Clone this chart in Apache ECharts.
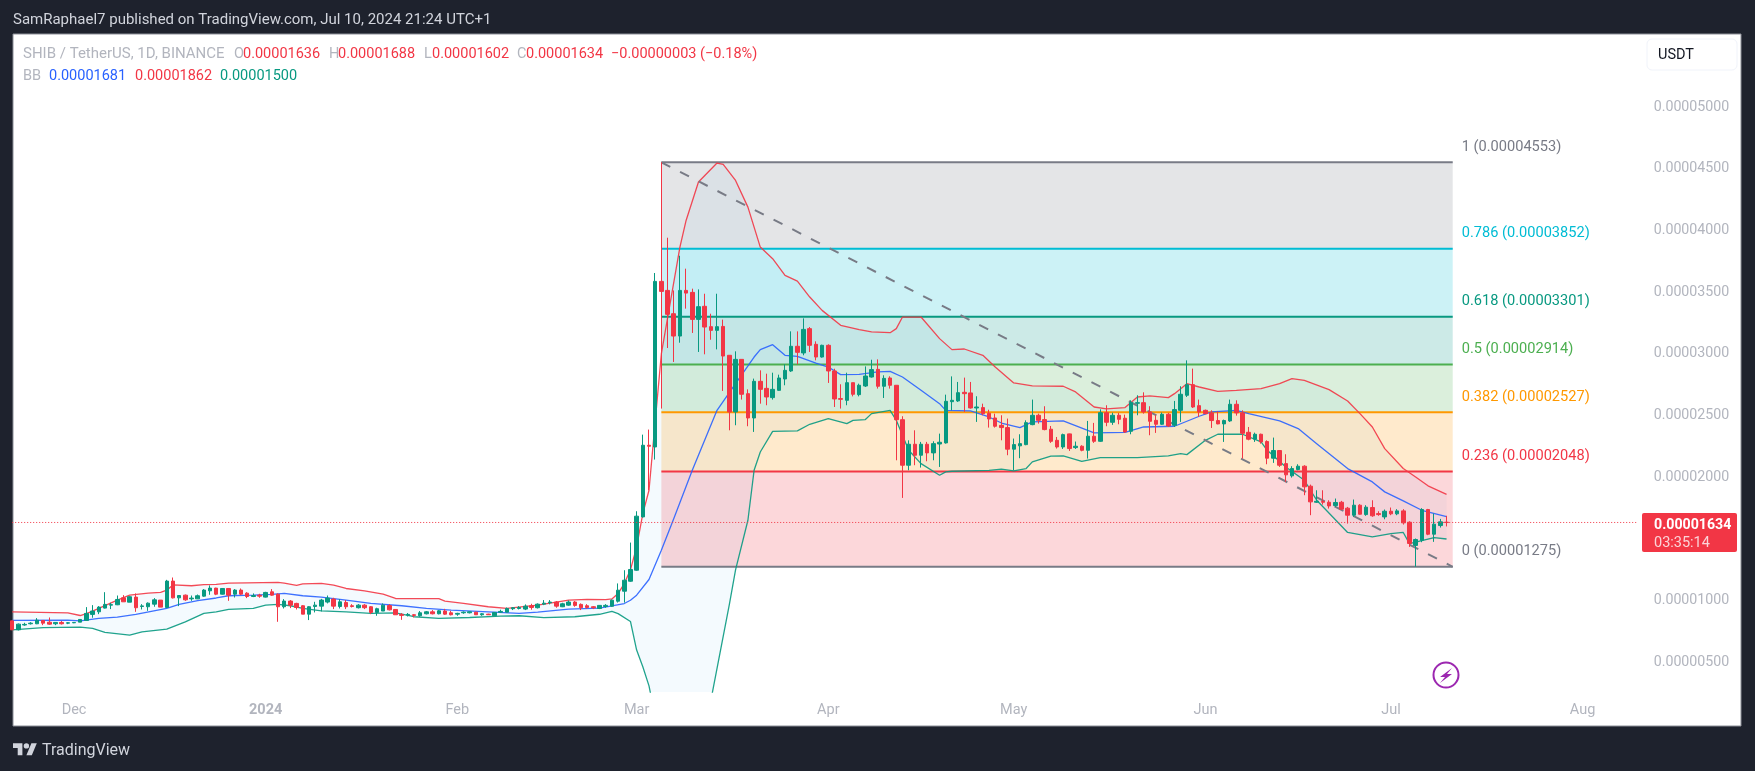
<!DOCTYPE html>
<html>
<head>
<meta charset="utf-8">
<title>SHIB / TetherUS</title>
<style>
html, body { margin: 0; padding: 0; background: #1e222d; }
#chart-container { width: 1755px; height: 771px; }
</style>
<script src="https://cdn.jsdelivr.net/npm/echarts@6/dist/echarts.min.js"></script>
</head>
<body>
<div id="chart-container"></div>
<script>
// all prices are in units of 0.00000001
var candlesOHLC = [
[837,837,764,764],[764,815,759,810],[803,821,797,808],[813,826,807,818],[813,859,810,842],[840,842,802,818],[826,864,805,810],[813,826,802,824],[824,835,807,813],[818,826,810,821],
[821,826,818,824],[826,848,826,848],[840,948,837,897],[889,964,862,916],[910,956,891,948],[940,1069,937,970],[964,983,932,968],[967,1042,964,1010],[1023,1045,991,991],[988,1037,988,1032],
[1029,1059,910,943],[953,972,929,958],[951,986,918,980],[972,1021,951,1007],[1005,1005,948,948],[945,1169,940,1159],[1159,1188,1018,1023],[1023,1045,956,1042],[1045,1050,999,1007],[1015,1042,999,1021],
[1015,1050,1013,1040],[1037,1094,1032,1086],[1080,1124,1048,1102],[1102,1105,1045,1053],[1053,1102,1050,1099],[1099,1102,999,1045],[1053,1094,1026,1086],[1086,1099,1045,1053],[1061,1069,1021,1034],[1034,1059,1029,1042],
[1045,1056,1024,1037],[1029,1072,1026,1067],[1072,1094,1040,1045],[1053,1059,829,951],[951,1013,937,997],[997,1005,940,964],[978,983,929,945],[959,964,891,891],[891,956,843,951],[953,991,905,964],
[956,1015,913,1005],[989,1042,978,1021],[1013,1024,932,956],[953,1013,937,991],[986,1005,932,951],[959,972,945,953],[943,972,937,964],[964,972,932,943],[951,956,891,905],[905,943,878,935],
[916,978,916,964],[961,972,921,926],[929,932,886,886],[889,900,845,881],[883,900,872,889],[886,891,864,881],[878,916,870,902],[894,916,889,910],[910,924,889,894],[894,924,889,918],
[916,934,886,891],[902,918,881,886],[891,902,878,897],[902,913,894,907],[902,913,897,910],[907,910,884,886],[886,899,878,894],[891,894,884,886],[878,907,878,905],[907,927,902,913],
[907,945,905,937],[935,948,924,943],[937,956,929,945],[932,970,924,956],[959,975,927,945],[943,978,937,972],[972,1005,964,980],[983,1005,970,989],[989,997,943,956],[951,983,948,975],
[964,1002,959,989],[989,997,951,962],[970,978,924,943],[959,972,935,945],[951,956,932,943],[937,964,932,962],[953,972,943,962],[955,1010,950,1004],[996,1140,985,1085],[1077,1247,985,1166],
[1158,1471,1153,1253],[1247,1725,1242,1685],[1679,2346,1674,2260],[2260,2387,1895,2252],[2246,3656,2144,3588],[3588,4553,2557,3507],[3515,3942,3048,3321],[3326,3515,2935,3145],[3145,3796,3091,3515],[3515,3691,3367,3493],
[3499,3529,3170,3280],[3280,3523,3016,3383],[3386,3488,2997,3218],[3221,3326,3115,3191],[3191,3488,3037,3221],[3223,3278,2700,2983],[2989,2989,2381,2530],[2530,3021,2422,2956],[2956,2956,2630,2673],[2678,2713,2414,2481],
[2481,2800,2368,2778],[2778,2867,2597,2713],[2721,2840,2584,2651],[2646,2848,2630,2713],[2705,2832,2700,2805],[2797,2916,2746,2867],[2862,3183,2854,3062],[3062,3183,2916,3013],[3008,3288,2989,3199],[3205,3218,3016,3070],
[3078,3102,2948,2975],[2975,3075,2970,3070],[3070,3078,2765,2862],[2862,2880,2570,2635],[2638,2754,2557,2632],[2624,2848,2584,2767],[2767,2767,2656,2673],[2670,2759,2656,2746],[2740,2899,2732,2821],[2813,2953,2808,2873],
[2875,2956,2719,2738],[2738,2827,2643,2802],[2805,2819,2719,2746],[2746,2746,2138,2467],[2467,2495,1833,2098],[2098,2300,2057,2268],[2268,2381,2098,2179],[2179,2287,2079,2268],[2268,2287,2130,2198],[2198,2292,2138,2273],
[2270,2354,2084,2284],[2279,2670,2273,2616],[2613,2818,2543,2624],[2619,2773,2611,2686],[2689,2808,2530,2678],[2684,2773,2557,2562],[2562,2657,2449,2570],[2565,2597,2503,2516],[2519,2548,2403,2473],[2481,2516,2403,2414],
[2421,2503,2300,2403],[2403,2476,2179,2228],[2228,2314,2057,2265],[2255,2349,2155,2273],[2265,2462,2260,2443],[2427,2630,2422,2503],[2503,2516,2435,2462],[2468,2576,2381,2387],[2390,2416,2279,2292],[2300,2327,2233,2246],
[2246,2354,2230,2346],[2352,2354,2214,2233],[2241,2290,2230,2252],[2252,2260,2211,2219],[2219,2457,2152,2333],[2333,2441,2279,2292],[2292,2551,2287,2524],[2524,2584,2414,2446],[2446,2524,2425,2503],[2503,2522,2430,2470],
[2479,2508,2360,2368],[2373,2624,2349,2605],[2600,2665,2503,2605],[2605,2689,2516,2530],[2530,2576,2341,2454],[2462,2503,2360,2430],[2430,2525,2425,2511],[2511,2522,2408,2416],[2422,2619,2408,2549],[2543,2738,2449,2673],
[2665,2948,2651,2751],[2751,2881,2562,2570],[2581,2630,2490,2530],[2543,2549,2511,2516],[2522,2543,2400,2460],[2460,2535,2430,2433],[2433,2468,2287,2460],[2457,2630,2449,2592],[2592,2624,2500,2522],[2522,2543,2152,2357],
[2365,2408,2300,2309],[2309,2362,2287,2349],[2349,2354,2273,2287],[2290,2300,2106,2155],[2155,2322,2117,2217],[2217,2219,2084,2098],[2111,2187,1963,2020],[2012,2090,1998,2071],[2063,2106,2057,2090],[2090,2098,1855,1923],
[1928,1941,1693,1801],[1798,1895,1793,1806],[1804,1895,1779,1798],[1798,1814,1747,1768],[1771,1828,1760,1796],[1798,1809,1739,1742],[1750,1760,1625,1693],[1693,1820,1680,1774],[1774,1782,1698,1701],[1698,1774,1688,1758],
[1755,1814,1680,1688],[1706,1725,1688,1698],[1679,1739,1660,1725],[1725,1755,1693,1704],[1704,1742,1693,1728],[1728,1742,1617,1631],[1636,1644,1436,1464],[1448,1504,1275,1496],[1490,1750,1474,1739],[1739,1744,1531,1539],
[1539,1706,1477,1620],[1609,1663,1593,1639],[1636,1688,1602,1634]
];

// bollinger bands, [candle index, price]
var bbUpper = [[0,910],[9,902],[11,880],[12,895],[13,915],[15,960],[17,1005],[19,1045],[22,1062],[24,1068],[25,1085],[26,1128],[29,1121],[31,1131],[33,1132],[35,1142],[38,1145],[43,1148],[44,1143],[46,1124],[47,1137],[50,1140],[52,1126],[54,1099],[57,1080],[60,1053],[62,1018],[66,1016],[69,1016],[70,997],[73,978],[77,951],[80,937],[85,964],[90,1005],[93,1010],[96,1008],[97,1014],[98,1058],[99,1139],[100,1250],[101,1436],[102,1706],[103,1895],[104,2450],[105,3002],[108,3866],[109,4082],[111,4393],[114,4547],[115,4536],[117,4406],[119,4190],[121,3866],[123,3772],[125,3637],[127,3590],[129,3461],[131,3353],[134,3232],[137,3197],[139,3178],[142,3172],[143,3205],[144,3299],[147,3299],[150,3124],[152,3035],[154,3040],[157,2989],[159,2894],[162,2765],[165,2741],[170,2738],[172,2692],[175,2570],[177,2554],[180,2565],[182,2651],[184,2660],[187,2646],[188,2678],[190,2759],[192,2732],[195,2697],[198,2705],[202,2719],[205,2759],[207,2800],[209,2786],[213,2711],[216,2619],[218,2516],[220,2408],[222,2233],[225,2071],[227,2003],[229,1931],[232,1862]];
var bbBasis = [[0,840],[9,843],[11,837],[14,856],[17,867],[20,889],[25,937],[27,970],[30,1000],[33,1022],[35,1040],[39,1045],[42,1051],[44,1059],[47,1040],[50,1029],[54,1005],[58,978],[63,959],[67,937],[71,924],[77,910],[82,897],[85,907],[90,932],[95,940],[99,977],[100,1004],[101,1045],[103,1172],[105,1409],[107,1665],[110,2057],[114,2543],[117,2759],[120,2975],[121,3035],[123,3075],[125,2989],[127,2980],[130,2926],[132,2894],[134,2832],[137,2835],[140,2854],[142,2859],[144,2813],[147,2705],[150,2597],[151,2543],[155,2538],[158,2489],[160,2440],[163,2403],[165,2449],[170,2457],[175,2360],[180,2365],[183,2408],[188,2414],[192,2495],[194,2530],[198,2543],[200,2516],[205,2457],[208,2395],[211,2273],[216,2071],[220,1963],[222,1882],[225,1809],[228,1733],[232,1681]];
var bbLower = [[0,764],[5,781],[11,786],[13,775],[15,743],[19,721],[21,748],[25,770],[28,829],[31,897],[33,910],[35,929],[39,937],[41,964],[43,970],[45,959],[47,937],[50,918],[54,910],[58,897],[62,902],[65,870],[69,856],[74,864],[79,875],[82,878],[86,862],[91,870],[95,890],[97,914],[98,895],[100,832],[101,600],[102,465],[103,310],[104,60],[113,190],[116,970],[117,1250],[119,1652],[120,2057],[121,2205],[123,2373],[127,2376],[129,2430],[132,2476],[135,2435],[136,2462],[138,2468],[139,2516],[142,2543],[143,2462],[145,2219],[147,2111],[150,2017],[151,2044],[152,2049],[158,2057],[160,2066],[162,2052],[164,2071],[165,2125],[168,2171],[170,2174],[173,2130],[176,2160],[182,2160],[187,2174],[189,2192],[190,2184],[193,2300],[195,2349],[199,2349],[202,2287],[203,2219],[206,2084],[209,1976],[211,1814],[216,1553],[220,1517],[223,1544],[225,1553],[226,1463],[230,1512],[232,1500]];

// fibonacci retracement drawn from candle 105 to candle 233
var fibStart = 105, fibEnd = 233;
var fibRatios = ['1', '0.786', '0.618', '0.5', '0.382', '0.236', '0'];
var fibPrices = [4553, 3852, 3301, 2914, 2527, 2048, 1275];
var fibColors = ['#787b86', '#00bcd4', '#089981', '#4caf50', '#ff9800', '#f23645', '#787b86'];
var fibFills = ['rgba(120,123,134,0.2)', 'rgba(0,188,212,0.2)', 'rgba(0,150,136,0.2)', 'rgba(76,175,80,0.2)', 'rgba(255,152,0,0.2)', 'rgba(242,54,69,0.2)'];
var trendLine = [[105, 4553], [233, 1275]];

var priceTicks = [500, 1000, 1500, 2000, 2500, 3000, 3500, 4000, 4500, 5000];
var lastPrice = 1634;
var tickDates = ['2023-12-01', '2024-01-01', '2024-02-01', '2024-03-01', '2024-04-01', '2024-05-01', '2024-06-01', '2024-07-01', '2024-08-01'];
var tickNames = ['Dec', '{b|2024}', 'Feb', 'Mar', 'Apr', 'May', 'Jun', 'Jul', 'Aug'];

var legendRow1 = [
    ['SHIB / TetherUS, 1D, BINANCE', 23, '#b2b5be', 15], ['O', 234, '#b2b5be'], ['0.00001636', 243, '#f23645'],
    ['H', 329, '#b2b5be'], ['0.00001688', 338, '#f23645'], ['L', 424, '#b2b5be'], ['0.00001602', 432, '#f23645'],
    ['C', 517, '#b2b5be'], ['0.00001634', 526, '#f23645'], ['\u22120.00000003 (\u22120.18%)', 611, '#f23645']
];
var legendRow2 = [
    ['BB', 23, '#b2b5be'], ['0.00001681', 49, '#2962ff'], ['0.00001862', 135, '#f23645'], ['0.00001500', 220, '#089981']
];

// one category per day, runs on past the last candle to the right edge
var categories = [];
var day = new Date(Date.UTC(2023, 10, 21));
for (var i = 0; i < 264; i++) {
    categories.push(day.toISOString().slice(0, 10));
    day.setUTCDate(day.getUTCDate() + 1);
}

var fontName = 'Roboto, sans-serif';
var dom = document.getElementById('chart-container');
var myChart = echarts.init(dom, null, { renderer: 'canvas' });

function label(text, x, y, fill, font) {
    return { type: 'text', z: 100, style: { text: text, x: x, y: y, fill: fill, font: font || ('14.5px ' + fontName), verticalAlign: 'middle' } };
}

var graphics = [
    { type: 'rect', z: -10, shape: { x: 13, y: 34, width: 1728, height: 692 }, style: { fill: '#ffffff', stroke: '#8b8e97', lineWidth: 1 } },
    label('SamRaphael7 published on TradingView.com, Jul 10, 2024 21:24 UTC+1', 13, 20.5, '#d1d4dc', '15px ' + fontName),
    // usdt button
    { type: 'rect', z: 100, shape: { x: 1647, y: 39, width: 90, height: 31, r: 5 }, style: { fill: '#ffffff', stroke: '#f0f3fa', lineWidth: 1 } },
    label('USDT', 1658, 55.5, '#131722'),
    // last price tag
    { type: 'rect', z: 100, shape: { x: 1642, y: 513, width: 95, height: 39, r: 2 }, style: { fill: '#f23645' } },
    label('0.00001634', 1654, 525, '#ffffff', 'bold 14.2px ' + fontName),
    label('03:35:14', 1654, 543, '#fbd3d7'),
    // bolt marker
    { type: 'circle', z: 100, shape: { cx: 1446, cy: 675, r: 12.5 }, style: { fill: '#ffffff', stroke: '#9c27b0', lineWidth: 2 } },
    { type: 'polygon', z: 100, shape: { points: [[1452, 668], [1440, 677], [1445, 677], [1440, 683], [1452, 674], [1447, 674]] }, style: { fill: '#9c27b0' } },
    // tradingview logo
    { type: 'polygon', z: 100, shape: { points: [[13, 743.2], [22.4, 743.2], [22.4, 755.2], [17.7, 755.2], [17.7, 748], [13, 748]] }, style: { fill: '#d1d4dc' } },
    { type: 'polygon', z: 100, shape: { points: [[31.8, 755.2], [26.4, 755.2], [31.4, 743.2], [36.8, 743.2]] }, style: { fill: '#d1d4dc' } },
    { type: 'circle', z: 100, shape: { cx: 26.4, cy: 745.9, r: 2.7 }, style: { fill: '#d1d4dc' } },
    label('TradingView', 42, 751, '#d1d4dc', '16px ' + fontName)
];
legendRow1.forEach(function (t) { graphics.push(label(t[0], t[1], 54, t[2], t[3] ? t[3] + 'px ' + fontName : null)); });
legendRow2.forEach(function (t) { graphics.push(label(t[0], t[1], 76, t[2])); });

function bandLine(name, pts, color) {
    return {
        name: name, type: 'line', data: pts, z: 3, showSymbol: false, silent: true,
        lineStyle: { color: color, width: 1.3, opacity: 0.9 }, clip: true
    };
}

var option = {
    animation: false,
    backgroundColor: '#1e222d',
    textStyle: { fontFamily: fontName },
    graphic: graphics,
    grid: { left: 12.2, top: 34.5, width: 1626, height: 657.5, containLabel: false },
    xAxis: {
        type: 'category',
        data: categories,
        boundaryGap: false,
        axisLine: { show: false },
        axisTick: { show: false },
        splitLine: { show: false },
        axisLabel: {
            interval: function (index, value) { return tickDates.indexOf(value) >= 0; },
            formatter: function (value) { return tickNames[tickDates.indexOf(value)]; },
            color: '#b2b5be', fontSize: 14.5, margin: 11, fontFamily: fontName,
            rich: { b: { fontWeight: 'bold', color: '#b2b5be', fontSize: 14.5, fontFamily: fontName } }
        }
    },
    yAxis: {
        type: 'value',
        position: 'right',
        min: 260,
        max: 5589,
        axisLine: { show: false },
        axisTick: { show: false },
        splitLine: { show: false },
        axisLabel: {
            customValues: priceTicks,
            formatter: function (v) { return (v * 1e-8).toFixed(8); },
            color: '#b2b5be', fontSize: 14.2, align: 'right', margin: 91, fontFamily: fontName,
            padding: [6, 0, 0, 0]
        }
    },
    series: [
        {
            // fill between the outer bands
            name: 'BB fill', type: 'custom', z: 1, silent: true, clip: true,
            data: [[0, 0]],
            renderItem: function (params, api) {
                var pts = bbUpper.concat(bbLower.slice().reverse()).map(function (p) { return api.coord(p); });
                return { type: 'polygon', shape: { points: pts }, style: { fill: 'rgba(33,150,243,0.05)' } };
            }
        },
        {
            name: 'Fib', type: 'custom', z: 2, silent: true,
            data: fibPrices.map(function (p) { return [fibStart, p]; }),
            renderItem: function (params, api) {
                var j = params.dataIndex;
                var a = api.coord([fibStart, fibPrices[j]]);
                var b = api.coord([fibEnd, fibPrices[j]]);
                var kids = [];
                if (j < fibFills.length) {
                    var c = api.coord([fibEnd, fibPrices[j + 1]]);
                    kids.push({ type: 'rect', shape: { x: a[0], y: a[1], width: c[0] - a[0], height: c[1] - a[1] }, style: { fill: fibFills[j] } });
                }
                kids.push({ type: 'line', z2: 2, shape: { x1: a[0], y1: a[1], x2: b[0], y2: b[1] }, style: { stroke: fibColors[j], lineWidth: 2 } });
                kids.push({ type: 'text', z2: 3, style: { text: fibRatios[j] + ' (' + (fibPrices[j] * 1e-8).toFixed(8) + ')', x: b[0] + 9, y: b[1] - 15, fill: fibColors[j], font: '14.6px ' + fontName, verticalAlign: 'middle' } });
                return { type: 'group', children: kids };
            }
        },
        bandLine('Upper', bbUpper, '#f23645'),
        bandLine('Basis', bbBasis, '#2962ff'),
        bandLine('Lower', bbLower, '#089981'),
        {
            name: 'Trend', type: 'line', data: trendLine, z: 3, showSymbol: false, silent: true,
            lineStyle: { color: '#787b86', width: 2, type: [10, 11] }
        },
        {
            name: 'SHIB', type: 'candlestick', z: 4, barWidth: 4, silent: true,
            // file keeps o,h,l,c; echarts wants o,c,l,h
            data: candlesOHLC.map(function (c) { return [c[0], c[3], c[2], c[1]]; }),
            itemStyle: { color: '#089981', color0: '#f23645', borderColor: '#089981', borderColor0: '#f23645', borderWidth: 1 }
        },
        {
            name: 'Last', type: 'line', z: 5, showSymbol: false, silent: true,
            data: [[0, lastPrice], [263, lastPrice]],
            lineStyle: { color: '#f23645', width: 1, type: [1, 2] }
        }
    ]
};

if (option && typeof option === 'object') {
    myChart.setOption(option);
}

window.addEventListener('resize', myChart.resize);
</script>
</body>
</html>
